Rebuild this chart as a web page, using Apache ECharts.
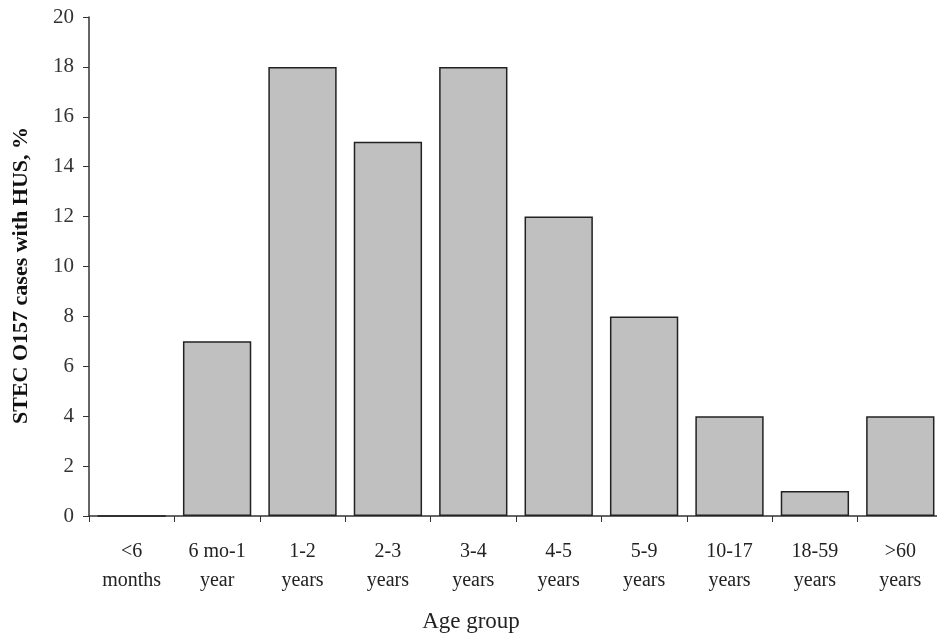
<!DOCTYPE html>
<html><head><meta charset="utf-8">
<script src="https://cdn.jsdelivr.net/npm/echarts@6/dist/echarts.min.js"></script>
<style>html,body{margin:0;padding:0;background:#fff}#c{width:937px;height:637px}</style>
</head><body><div id="c"></div>
<script>
const categories = ["<6\nmonths","6 mo-1\nyear","1-2\nyears","2-3\nyears","3-4\nyears","4-5\nyears","5-9\nyears","10-17\nyears","18-59\nyears",">60\nyears"];
const values = [0, 7, 18, 15, 18, 12, 8, 4, 1, 4];
const yTicks = {min: 0, max: 20, interval: 2};
const font = "'Liberation Serif','Times New Roman',serif";
const chart = echarts.init(document.getElementById('c'));
chart.setOption({
  animation: false,
  grid: {left: 89, right: -6, top: 17, bottom: 121, containLabel: false, outerBoundsMode: 'none'},
  xAxis: {
    type: 'category', data: categories,
    axisLine: {lineStyle: {color: '#333', width: 1.5}},
    axisTick: {show: true, alignWithLabel: false, length: 6, lineStyle: {color: '#333'}},
    axisLabel: {color: '#222', fontFamily: font, fontSize: 20, lineHeight: 29, margin: 21, interval: 0},
    name: 'Age group', nameLocation: 'middle', nameGap: 94,
    nameTextStyle: {color: '#222', fontFamily: font, fontSize: 23, padding: [0, 90, 0, 0]}
  },
  yAxis: {
    type: 'value', min: yTicks.min, max: yTicks.max, interval: yTicks.interval,
    splitLine: {show: false},
    axisLine: {show: true, lineStyle: {color: '#333', width: 1.5}},
    axisTick: {show: true, length: 6, lineStyle: {color: '#333'}},
    axisLabel: {color: '#333', fontFamily: font, fontSize: 21, margin: 15},
    name: 'STEC O157 cases with HUS, %', nameLocation: 'middle', nameGap: 57,
    nameTextStyle: {color: '#111', fontFamily: font, fontSize: 22, fontWeight: 'bold', padding: [0, 18, 0, 0]}
  },
  series: [{
    type: 'bar', data: values, barCategoryGap: '20%',
    itemStyle: {color: '#c0c0c0', borderColor: '#222', borderWidth: 1.5}
  }]
});
</script></body></html>
